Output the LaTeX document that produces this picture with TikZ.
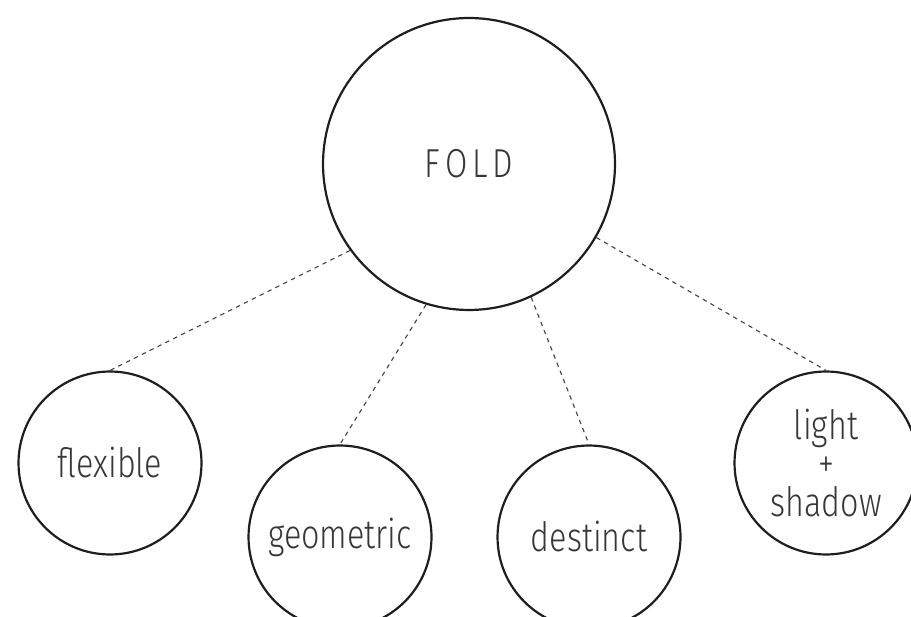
\documentclass[tikz,border=0pt]{standalone}
\usepackage{fontspec}
\setmainfont{Fira Sans}[UprightFont={* Light},FakeStretch=0.8]
\usetikzlibrary{positioning,calc}
\definecolor{InkGray}{RGB}{30,30,30}
\definecolor{TextGray}{RGB}{55,55,55}
\definecolor{DashGray}{RGB}{70,70,70}
\tikzset{
	bigc/.style={circle,draw=InkGray,line width=1.25pt,minimum size=5.84cm,inner sep=0pt,
		text=TextGray,font=\fontsize{23}{24}\selectfont},
	smallc/.style={circle,draw=InkGray,line width=1.25pt,minimum size=3.66cm,inner sep=0pt,
		align=center,text=TextGray,font=\fontsize{23}{22}\selectfont},
	link/.style={draw=DashGray,line width=0.65pt,dash pattern=on 2.5pt off 2.5pt},
}
\begin{document}
\begin{tikzpicture}[x=0.02cm,y=-0.02cm]
	\useasboundingbox (0,0) rectangle (911,617);
	\node[bigc] (fold) at (469,164) {F\hspace{0.12em}O\hspace{0.12em}L\hspace{0.12em}D};
	\node[smallc] (flex) at (110,463) {flexible};
	\node[smallc] (geo) at (340,537) {geometric};
	\node[smallc] (dist) at (589,537) {destinct};
	\node[smallc] (light) at (826,463) {light\\+\\shadow};
	\foreach \a/\b in {216/flex,253/geo,295/dist,330/light}
	\draw[link] (fold.\a)--(\b.north);
\end{tikzpicture}
\end{document}
